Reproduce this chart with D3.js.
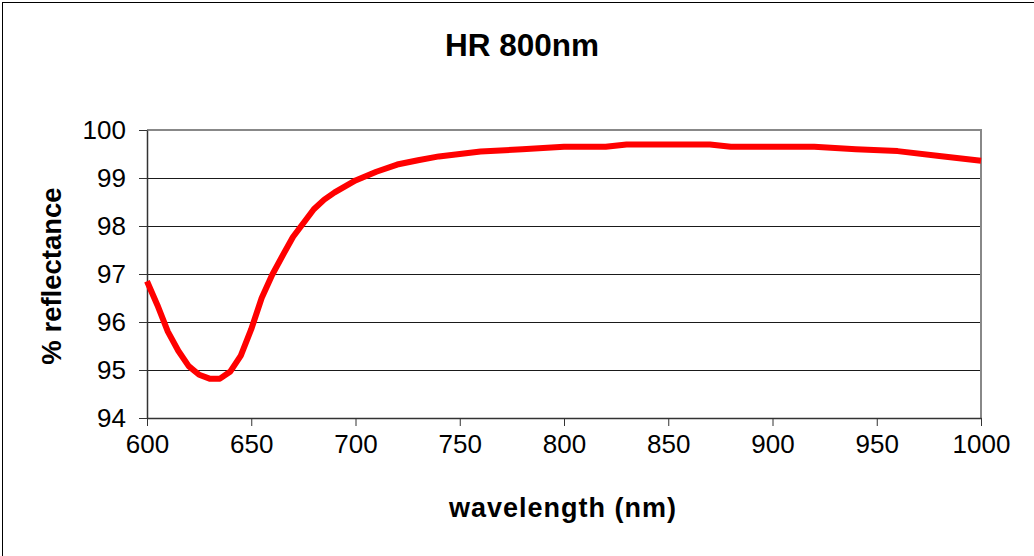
<!DOCTYPE html>
<html>
<head>
<meta charset="utf-8">
<script src="https://cdn.jsdelivr.net/npm/d3@7"></script>
<style>
  html, body { margin: 0; padding: 0; background: #fff; }
  svg { display: block; font-family: "Liberation Sans", Arial, sans-serif; }
</style>
</head>
<body>
<svg id="chart" width="1034" height="556"></svg>
<script>
// Measured reflectance of the HR 800nm coating
const wavelengths = [600, 605, 610, 615, 620, 625, 630, 635, 640, 645, 650, 655, 660, 665, 670,
  680, 685, 690, 700, 710, 720, 730, 740, 750, 760, 780, 800, 820, 830, 850, 870, 880, 900, 920,
  940, 960, 980, 1000];
const reflectance = [96.85, 96.35, 95.8, 95.4, 95.08, 94.9, 94.82, 94.82, 94.97, 95.3, 95.85, 96.5,
  96.98, 97.38, 97.77, 98.35, 98.55, 98.7, 98.95, 99.13, 99.28, 99.37, 99.45, 99.5, 99.55, 99.6,
  99.65, 99.65, 99.7, 99.7, 99.7, 99.65, 99.65, 99.65, 99.6, 99.56, 99.46, 99.36];
const xTicks = [600, 650, 700, 750, 800, 850, 900, 950, 1000];
const yTicks = [94, 95, 96, 97, 98, 99, 100];

const titleText = "HR 800nm";
const xTitle = "wavelength (nm)";
const yTitle = "% reflectance";

const svg = d3.select("#chart");

// Outer chart frame
svg.append("rect")
  .attr("x", 2.5).attr("y", 2.5)
  .attr("width", 1040).attr("height", 560)
  .attr("fill", "none").attr("stroke", "#000").attr("stroke-width", 1);

const plot = { left: 147, right: 981, top: 130, bottom: 418 };

const x = d3.scaleLinear().domain([600, 1000]).range([plot.left, plot.right]);
const y = d3.scaleLinear().domain([94, 100]).range([plot.bottom, plot.top]);

// Horizontal gridlines
svg.append("g")
  .selectAll("line")
  .data(yTicks.slice(1, -1))
  .join("line")
  .attr("x1", plot.left).attr("x2", plot.right)
  .attr("y1", d => Math.round(y(d)) + 0.5).attr("y2", d => Math.round(y(d)) + 0.5)
  .attr("stroke", "#1a1a1a").attr("stroke-width", 1);

// Top and right edges of the plot area
svg.append("path")
  .attr("d", `M${plot.left},${plot.top} H${plot.right} V${plot.bottom}`)
  .attr("fill", "none").attr("stroke", "#888").attr("stroke-width", 2);

// Y axis
const yAxis = svg.append("g")
  .attr("transform", `translate(${plot.left},0)`)
  .call(d3.axisLeft(y).tickValues(yTicks).tickFormat(d3.format("d"))
    .tickSize(8).tickPadding(13).tickSizeOuter(0));
yAxis.select(".domain").attr("stroke", "#333").attr("stroke-width", 1.5);
yAxis.selectAll(".tick line").attr("stroke", "#333");
yAxis.selectAll("text")
  .attr("font-size", 26).attr("fill", "#000")
  .attr("font-family", "Liberation Sans, Arial, sans-serif");

// X axis
const xAxis = svg.append("g")
  .attr("transform", `translate(0,${plot.bottom})`)
  .call(d3.axisBottom(x).tickValues(xTicks).tickFormat(d3.format("d"))
    .tickSize(8).tickPadding(9).tickSizeOuter(0));
xAxis.select(".domain").attr("stroke", "#333").attr("stroke-width", 1.5);
xAxis.selectAll(".tick line").attr("stroke", "#333");
xAxis.selectAll("text")
  .attr("font-size", 26).attr("fill", "#000")
  .attr("font-family", "Liberation Sans, Arial, sans-serif");

// Reflectance curve
const data = wavelengths.map((w, i) => ({ w, r: reflectance[i] }));
svg.append("path")
  .datum(data)
  .attr("d", d3.line().x(d => x(d.w)).y(d => y(d.r)))
  .attr("fill", "none")
  .attr("stroke", "#ff0000")
  .attr("stroke-width", 6)
  .attr("stroke-linejoin", "round");

// Titles
svg.append("text")
  .attr("x", 522).attr("y", 56)
  .attr("text-anchor", "middle")
  .attr("font-size", 31.5).attr("font-weight", "bold")
  .text(titleText);

svg.append("text")
  .attr("x", 563).attr("y", 517)
  .attr("text-anchor", "middle")
  .attr("font-size", 27).attr("font-weight", "bold")
  .attr("letter-spacing", 1)
  .text(xTitle);

svg.append("text")
  .attr("transform", "translate(61,276) rotate(-90)")
  .attr("text-anchor", "middle")
  .attr("font-size", 27.5).attr("font-weight", "bold")
  .text(yTitle);
</script>
</body>
</html>
